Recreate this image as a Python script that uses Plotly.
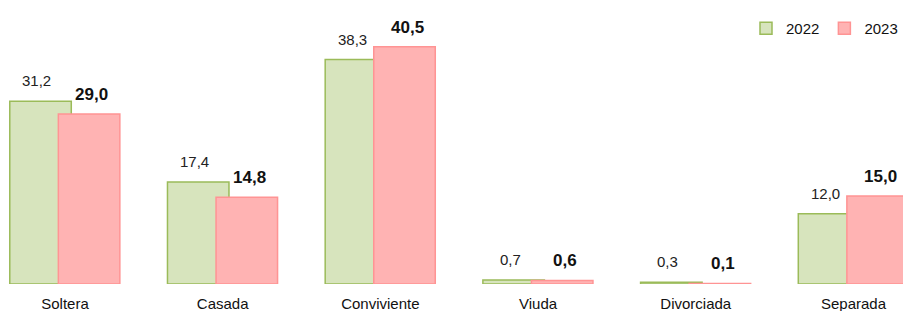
import plotly.graph_objects as go

categories = ["Soltera", "Casada", "Conviviente", "Viuda", "Divorciada", "Separada"]
values_2022 = [31.2, 17.4, 38.3, 0.7, 0.3, 12.0]
values_2023 = [29.0, 14.8, 40.5, 0.6, 0.1, 15.0]
series_names = ["2022", "2023"]

def fmt(v):
    return f"{v:.1f}".replace(".", ",")

FONT = "Liberation Sans, Arial"

fig = go.Figure()
fig.add_trace(go.Bar(
    x=categories, y=values_2022, name=series_names[0],
    width=0.39, offset=-0.35,
    marker=dict(color="#d7e4bd", line=dict(color="#9bbb59", width=1.5)),
))
fig.add_trace(go.Bar(
    x=categories, y=values_2023, name=series_names[1],
    width=0.39, offset=-0.042,
    marker=dict(color="#ffb3b3", line=dict(color="#ff9494", width=1.5)),
))

annotations = []
for c, v in zip(categories, values_2022):
    annotations.append(dict(x=c, y=v, xref="x", yref="y", text=fmt(v), showarrow=False,
                            xshift=-28, yshift=10, yanchor="bottom",
                            font=dict(family=FONT, size=15, color="#222222")))
for c, v in zip(categories, values_2023):
    annotations.append(dict(x=c, y=v, xref="x", yref="y", text="<b>" + fmt(v) + "</b>", showarrow=False,
                            xshift=27, yshift=8, yanchor="bottom",
                            font=dict(family=FONT, size=17, color="#111111")))

fig.update_layout(
    width=903, height=311,
    margin=dict(l=0, r=0, t=0, b=27, autoexpand=False),
    barmode="overlay",
    plot_bgcolor="white", paper_bgcolor="white",
    font=dict(family=FONT, size=15, color="#111111"),
    showlegend=True,
    legend=dict(orientation="h", x=1.0, y=0.9, xanchor="right", yanchor="middle",
                font=dict(family=FONT, size=15, color="#111111"),
                itemwidth=30, traceorder="normal", bgcolor="rgba(0,0,0,0)"),
    annotations=annotations,
    xaxis=dict(range=[-0.412, 5.314], showline=False, showgrid=False, ticks="",
               automargin=False, ticklabelstandoff=9,
               tickfont=dict(family=FONT, size=15, color="#111111")),
    yaxis=dict(range=[0, 48.46], visible=False, showgrid=False, automargin=False),
)

fig.write_html("out.html", config={"displayModeBar": False},
               post_script="document.body.style.margin='0';document.body.style.overflow='hidden';")
